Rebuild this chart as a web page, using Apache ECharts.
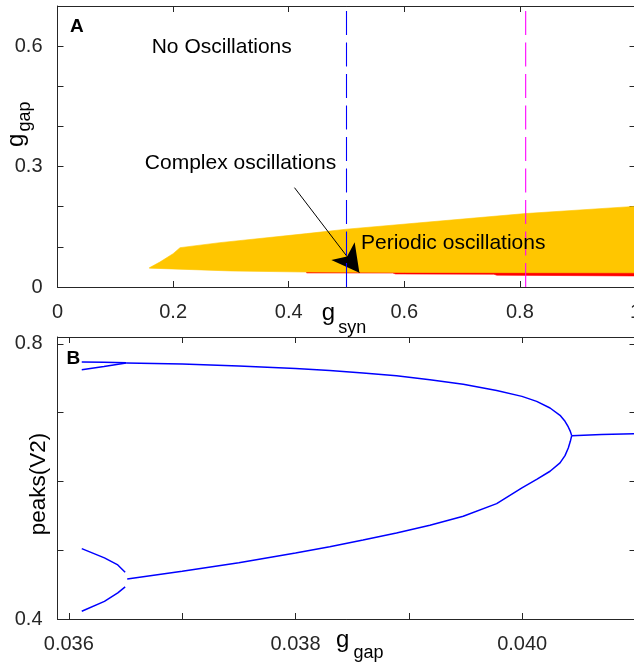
<!DOCTYPE html>
<html>
<head>
<meta charset="utf-8">
<script src="https://cdn.jsdelivr.net/npm/echarts@6.0.0/dist/echarts.min.js"></script>
<style>
html, body { margin: 0; padding: 0; background: #fff; }
#chart { width: 634px; height: 664px; }
</style>
</head>
<body>
<div id="chart"></div>
<script>
// ---- panel A: regions in the (g_syn, g_gap) plane ----
var periodicUpper = [[0.159, 0.048], [0.177, 0.062], [0.2, 0.083], [0.212, 0.098], [0.281, 0.1105],
  [0.431, 0.133], [0.5, 0.144], [0.627, 0.160], [0.81, 0.183], [1.0, 0.201]];
var periodicLower = [[1.0, 0.0352], [0.8, 0.0357], [0.6, 0.0362], [0.431, 0.0372], [0.3, 0.0400], [0.159, 0.047]];
var complexTop = [[0.431, 0.0385], [0.6, 0.038], [0.8, 0.0375], [1.0, 0.037]];
var complexBottom = [[1.0, 0.0275], [0.76, 0.0295], [0.755, 0.0318], [0.585, 0.0325], [0.58, 0.0348], [0.431, 0.035]];
var blueSyn = 0.5;
var magentaSyn = 0.81;
var gapRange = [0, 0.7];
var arrowFrom = [0.41, 0.2475];
var arrowTo = [0.5223, 0.0358];
var synLabels = [0, 0.3, 0.6];

// ---- panel B: peaks of V2 against g_gap ----
var fourTopA = [[0.036114, 0.7737], [0.03631, 0.7734], [0.036506, 0.7725]];
var fourTopB = [[0.036114, 0.7625], [0.03631, 0.7672], [0.036506, 0.7722]];
var fourLowA = [[0.036114, 0.5023], [0.036314, 0.4888], [0.036432, 0.4786], [0.036497, 0.4679]];
var fourLowB = [[0.036114, 0.4112], [0.036314, 0.4257], [0.036432, 0.438], [0.036497, 0.4467]];
var twoTop = [[0.036506, 0.7722], [0.037, 0.7706], [0.0375, 0.7677], [0.038, 0.7643], [0.038302, 0.7612],
  [0.038596, 0.7577], [0.038891, 0.7535], [0.039186, 0.748], [0.03948, 0.7412], [0.039775, 0.7322],
  [0.039998, 0.7237], [0.040128, 0.7164], [0.040246, 0.7068], [0.040334, 0.6961], [0.040378, 0.6874],
  [0.040407, 0.6792], [0.040425, 0.6728], [0.040437, 0.6666]];
var twoLow = [[0.036515, 0.4583], [0.037, 0.4693], [0.0375, 0.4818], [0.038, 0.4958], [0.038302, 0.5052],
  [0.038596, 0.5148], [0.038891, 0.5251], [0.039186, 0.5362], [0.03948, 0.5493], [0.039775, 0.5677],
  [0.039998, 0.5905], [0.040128, 0.603], [0.040246, 0.6148], [0.040334, 0.6269], [0.040378, 0.6375],
  [0.040407, 0.6487], [0.040425, 0.6583], [0.040437, 0.6666]];
var oneBranch = [[0.040437, 0.6666], [0.0407, 0.6683], [0.041, 0.6695]];
var gapTicks = [0.036, 0.037, 0.038, 0.039, 0.040, 0.041];
var gapLabels = [0.036, 0.038, 0.040];
var peakTicks = [0.4, 0.5, 0.6, 0.7, 0.8];
var peakLabels = [0.4, 0.8];

var font = '"Liberation Sans", Arial, Helvetica, sans-serif';
var axisColor = '#262626';

function frameAxis(grid, pos, opts) {
  var ax = {
    gridIndex: grid, type: 'value', position: pos,
    axisLine: { show: true, onZero: false, lineStyle: { color: axisColor, width: 1 } },
    axisTick: { show: true, inside: true, length: 6, lineStyle: { color: axisColor, width: 1 } },
    axisLabel: { show: pos === 'bottom' || pos === 'left', fontSize: 20, color: axisColor, fontFamily: font,
      margin: 15 },
    splitLine: { show: false }
  };
  for (var k in opts) {
    if (k === 'ticks') ax.axisTick.customValues = opts[k];
    else if (k === 'labels') ax.axisLabel.customValues = opts[k];
    else if (k === 'formatter') ax.axisLabel.formatter = opts[k];
    else ax[k] = opts[k];
  }
  return ax;
}

function region(outline, color, z) {
  return {
    type: 'custom', xAxisIndex: 0, yAxisIndex: 0, z: z, silent: true,
    data: outline,
    renderItem: function (params, api) {
      if (params.dataIndex !== 0) return;
      var pts = outline.map(function (p) { return api.coord(p); });
      return { type: 'polygon', shape: { points: pts }, style: { fill: color, stroke: color, lineWidth: 0.6 } };
    }
  };
}

function branch(points) {
  return {
    type: 'line', xAxisIndex: 2, yAxisIndex: 2, data: points, symbol: 'none', silent: true,
    lineStyle: { color: '#0000ff', width: 1.5 }
  };
}

// dashed vertical line across panel A at a fixed g_syn
function synLine(x, color) {
  return {
    type: 'line', xAxisIndex: 0, yAxisIndex: 0, z: 5, symbol: 'none', silent: true,
    data: [[x, gapRange[0]], [x, gapRange[1]]],
    color: color,
    lineStyle: { color: color, width: 1.1, type: [24, 7.5] }
  };
}

function subText(x, y, base, sub, dx, dy, rot) {
  return {
    type: 'group', x: x, y: y, rotation: rot || 0,
    children: [
      { type: 'text', x: 0, y: 0, style: { text: base, fontSize: 24, fontFamily: font, fill: '#000', align: 'left', verticalAlign: 'middle' } },
      { type: 'text', x: dx, y: dy, style: { text: sub, fontSize: 18, fontFamily: font, fill: '#000', align: 'left', verticalAlign: 'middle' } }
    ]
  };
}

function note(x, y, text, size, bold) {
  return { type: 'text', x: x, y: y, z: 10,
    style: { text: text, fontSize: size, fontWeight: bold ? 'bold' : 'normal', fontFamily: font, fill: '#000', align: 'left', verticalAlign: 'middle' } };
}

var chart = echarts.init(document.getElementById('chart'));
chart.setOption({
  animation: false,
  backgroundColor: '#fff',
  grid: [
    { left: 57.5, top: 6, width: 578, height: 281, outerBoundsMode: 'none', containLabel: false },
    { left: 57.5, top: 337, width: 578, height: 282, outerBoundsMode: 'none', containLabel: false }
  ],
  xAxis: [
    frameAxis(0, 'bottom', { min: 0, max: 1, interval: 0.2 }),
    frameAxis(0, 'top', { min: 0, max: 1, interval: 0.2 }),
    frameAxis(1, 'bottom', { min: 0.0359, max: 0.041, ticks: gapTicks, labels: gapLabels,
      formatter: function (v) { return v.toFixed(3); } }),
    frameAxis(1, 'top', { min: 0.0359, max: 0.041, ticks: gapTicks })
  ],
  yAxis: [
    frameAxis(0, 'left', { min: 0, max: 0.7, interval: 0.1, labels: synLabels }),
    frameAxis(0, 'right', { min: 0, max: 0.7, interval: 0.1 }),
    frameAxis(1, 'left', { min: 0.4, max: 0.81, ticks: peakTicks, labels: peakLabels }),
    frameAxis(1, 'right', { min: 0.4, max: 0.81, ticks: peakTicks })
  ],
  series: [
    region(complexTop.concat(complexBottom), '#ff0000', 1),
    region(periodicUpper.concat(periodicLower), '#ffc600', 2),
    synLine(blueSyn, '#0000ff'),
    synLine(magentaSyn, '#ff00ff'),
    {
      type: 'line', xAxisIndex: 0, yAxisIndex: 0, data: [], silent: true, z: 6, color: '#000',
      markLine: {
        silent: true, symbol: 'none', label: { show: false }, animation: false,
        lineStyle: { color: '#000', width: 1, type: 'solid' },
        data: [[{ coord: arrowFrom, symbol: 'none' }, { coord: arrowTo, symbol: 'arrow', symbolSize: [22, 27] }]]
      }
    },
    branch(fourTopA), branch(fourTopB), branch(fourLowA), branch(fourLowB),
    branch(twoTop), branch(twoLow), branch(oneBranch)
  ],
  graphic: [
    note(70, 26.7, 'A', 19, true),
    note(151.7, 47, 'No Oscillations', 21),
    note(144.8, 163.3, 'Complex oscillations', 21),
    note(361, 243, 'Periodic oscillations', 21),
    note(66.5, 358.3, 'B', 19, true),
    subText(321.7, 313, 'g', 'syn', 16.6, 14.6),
    subText(336, 640, 'g', 'gap', 17.5, 13.5),
    subText(16.5, 147, 'g', 'gap', 15.5, 8.8, Math.PI / 2),
    { type: 'text', x: 39, y: 484, rotation: Math.PI / 2,
      style: { text: 'peaks(V2)', fontSize: 22.5, fontFamily: font, fill: '#000', align: 'center', verticalAlign: 'middle' } }
  ]
});
</script>
</body>
</html>
